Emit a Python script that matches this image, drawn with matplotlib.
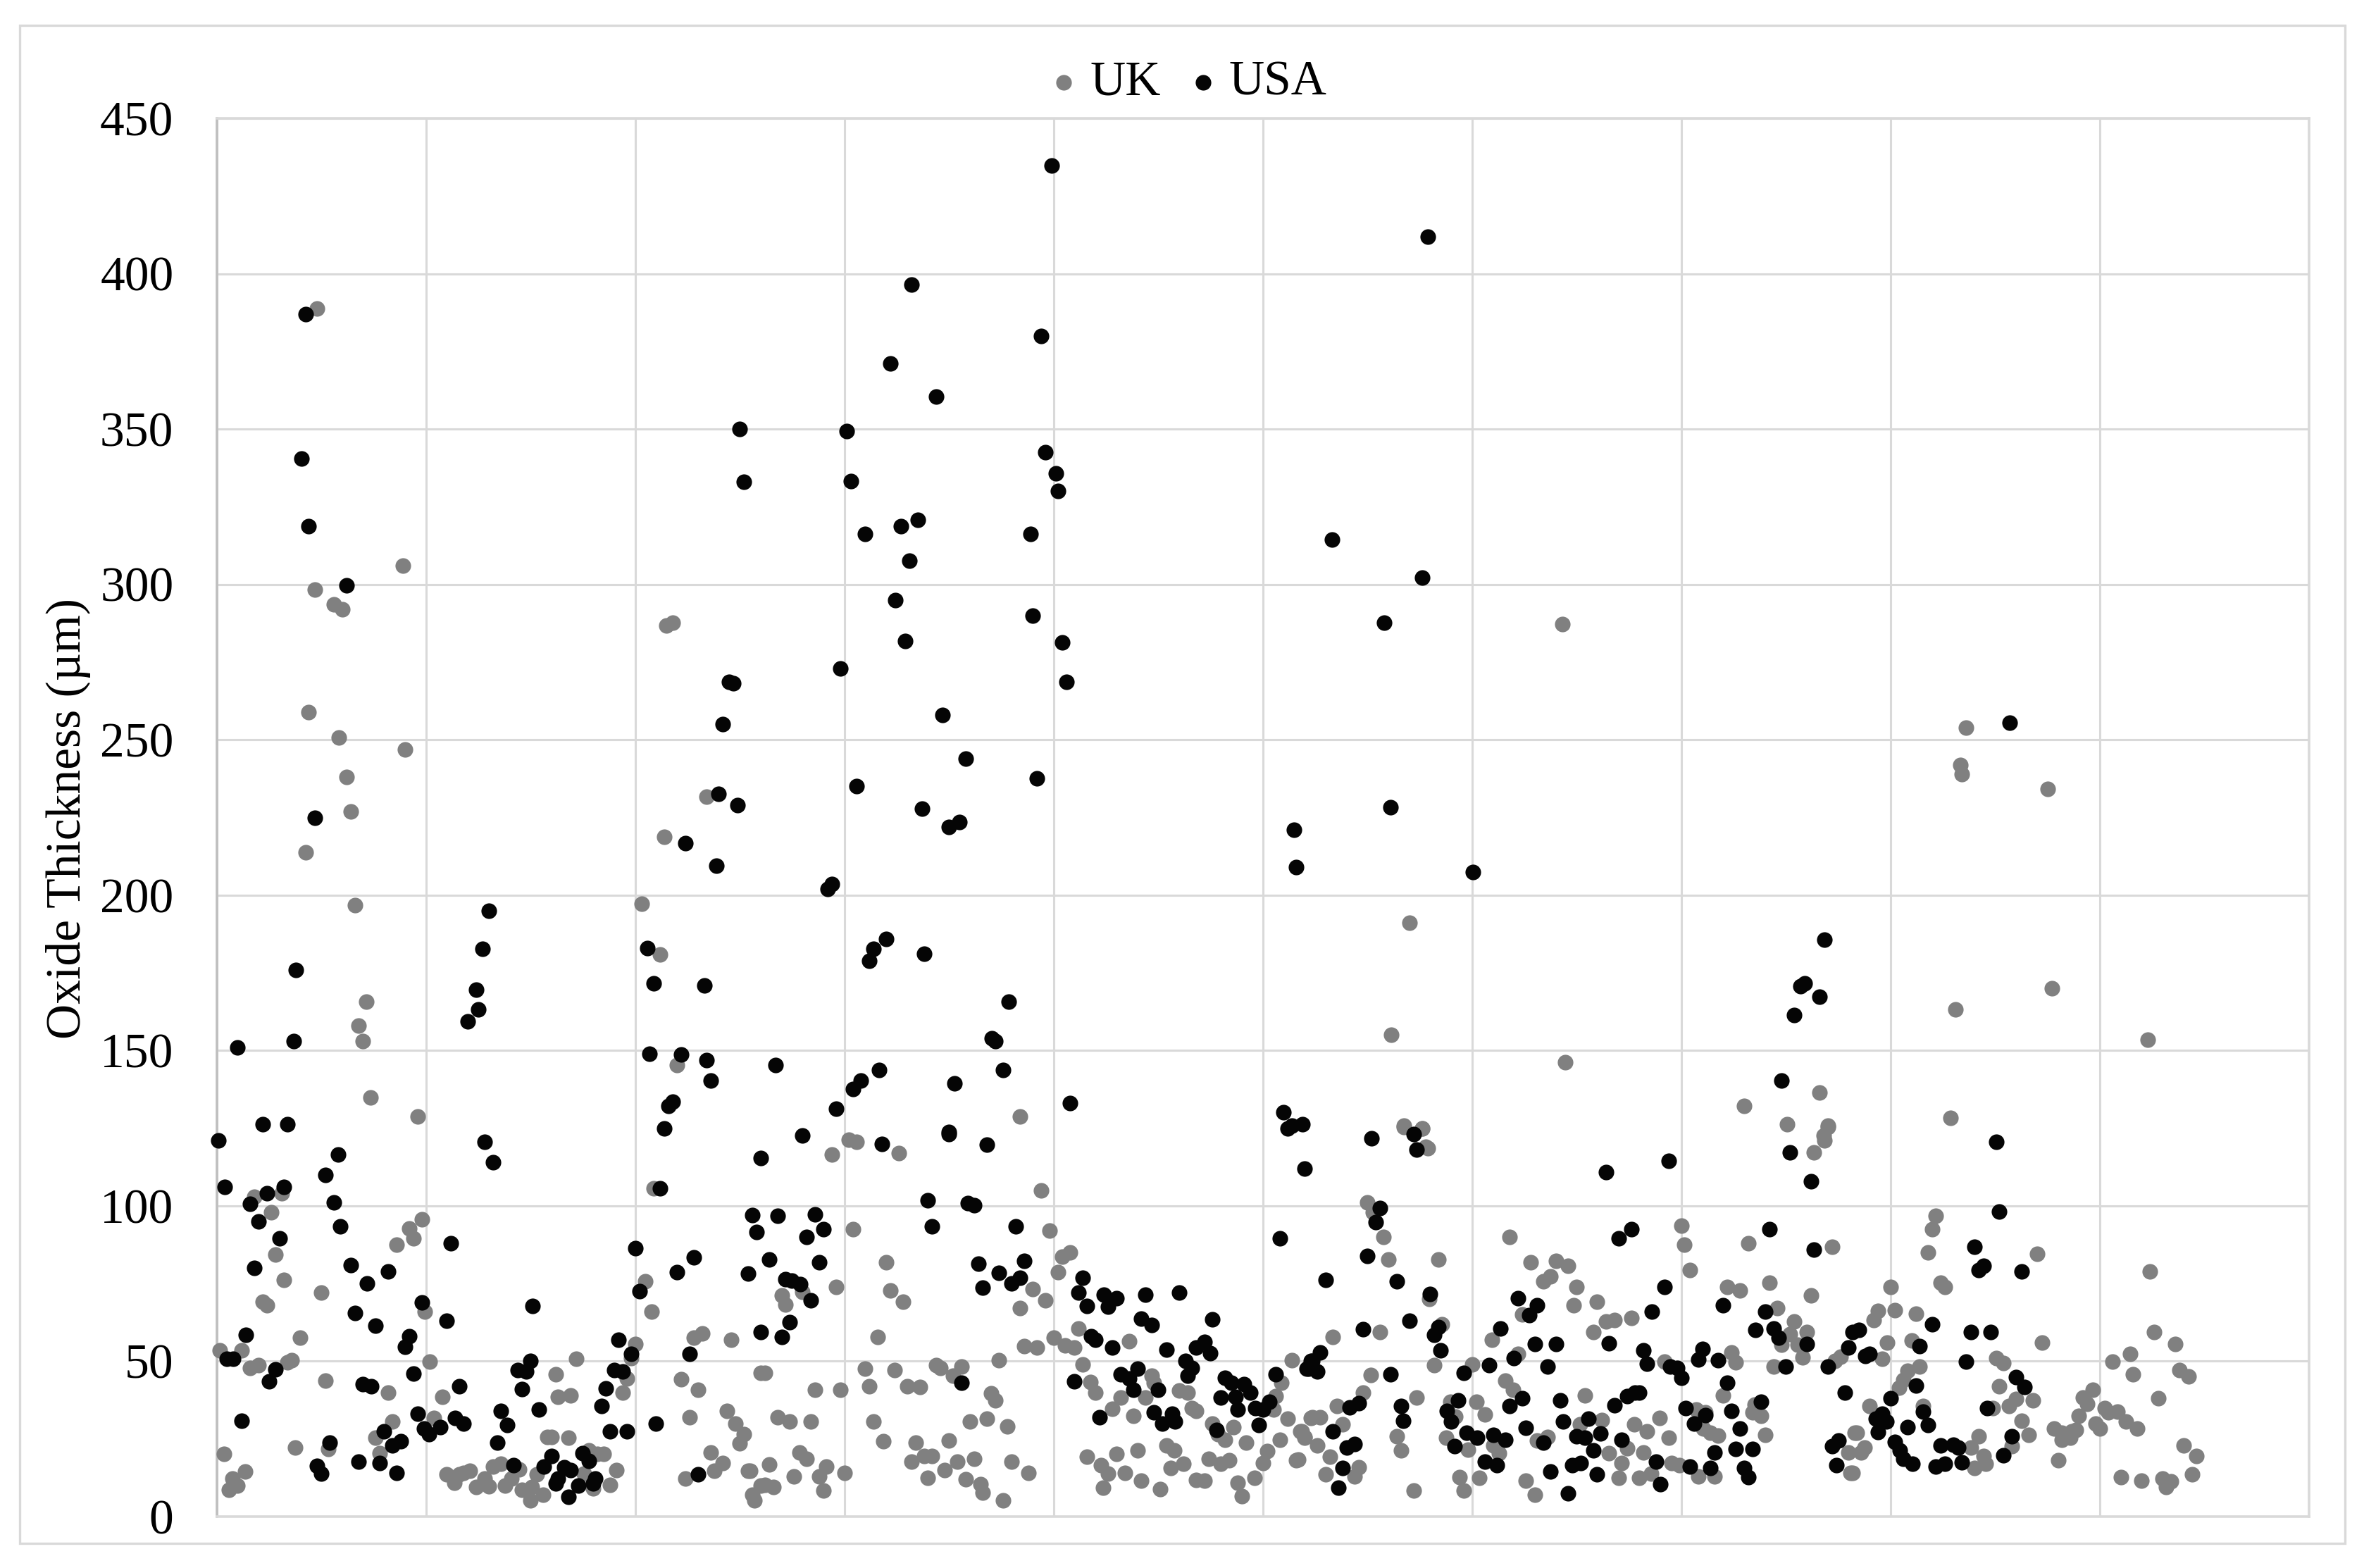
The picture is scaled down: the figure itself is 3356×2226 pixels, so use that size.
import matplotlib
matplotlib.use("Agg")
from matplotlib import pyplot as plt
from matplotlib.patches import Rectangle

## points, (position along the unlabelled x axis, oxide thickness)
uk_points = [
    (1.8,103), (3.1,104), (2.6,98), (9.8,95.6), (9.2,92.8), (9.4,89.5), (8.6,87.5), (2.8,84.4),
    (3.2,76.2), (5,72.2), (2.2,69.2), (2.4,68), (20.9,105.7), (20.5,75.8), (20.8,66), (9.95,66),
    (4,57.5), (0.15,53.4), (1.2,53.4), (3.6,50.3), (3.4,49.7), (2,48.8), (1.6,47.9), (5.2,43.7),
    (8.2,40), (10.2,49.8), (10.8,38.5), (16.2,45.8), (17.2,50.8), (20,55.6), (19.8,51), (19.6,44.4),
    (19.4,40), (16.3,38.6), (16.9,39), (22.2,44.3), (23,40.7), (22.8,57.5), (23.2,59), (24.6,56.9),
    (26,46.2), (22.6,32), (24.4,34), (24.8,30), (25.2,26.6), (25,23.5), (23.6,20.7), (24.2,17.2),
    (23.8,14.8), (22.4,12.2), (25.4,14.7), (26,10), (25.6,7), (25.7,5.2), (8.4,30.5), (7.6,25.3),
    (7.8,20.3), (10.4,31.8), (0.35,20.2), (1.35,14.6), (0.75,12.2), (1,10), (0.6,8.7), (3.75,22.2),
    (5.35,21.8), (15.8,25.7), (16,25.7), (16.8,25.3), (17.8,21.3), (18.5,20.2), (18.2,20.2),
    (11,13.5), (11.35,10.9), (11.6,13.5), (12.1,14.8), (11.8,14), (12.4,9.6), (12.8,12.2), (13,9.8),
    (13.2,16.1), (13.6,17), (13.8,10), (14.1,12.2), (14.45,15.2), (14.6,8.7), (15.05,9.6), (15.3,13.5),
    (15,5.2), (15.6,7), (17.55,13.9), (18,9.1), (18.8,10.3), (19.1,15),
    (30.2,121.3), (30.6,120.5), (29.4,116.6), (32.6,117), (39.4,104.9), (30.4,92.6), (39.8,92),
    (40.8,85), (40.4,83.6), (40.2,78.7), (32,81.9), (29.6,73.8), (32.2,72.7), (32.8,69.2), (27,71.2),
    (27.2,68.2), (28,72.3), (39,73.2), (39.6,69.7), (38.4,67), (41.2,60.5), (40,57.5), (40.55,55.1),
    (41,54.4), (38.6,54.9), (39.2,54.3), (43.6,56.4), (31.6,57.9), (37.4,50.3), (41.4,48.9), (51.4,50.3),
    (26.2,46.2), (31,47.7), (32.4,47.2), (34.4,48.8), (34.6,47.9), (35.6,48.3), (35.2,45.3), (31.2,42),
    (33,42), (33.6,41.6), (28.6,40.7), (29.8,40.7), (37,39.6), (37.2,37.5), (41.75,43.3), (42,40),
    (44.7,45.3), (44.8,43), (43.2,38.2), (42.8,34.6), (44.4,38.2), (46,40.5), (46.4,40), (46.6,34.8),
    (46.8,34), (43.8,32.5), (50.9,43.1), (50.6,38.8), (50.5,34.4), (51.2,31.4), (52.3,31.8), (47.6,30),
    (48.6,28.7), (48.2,24.8), (47.85,26.6), (49.2,23.8), (51.8,27.4), (52,25.7), (50.8,24.8), (50.2,21),
    (50,17.2), (51.6,18.1), (49.6,12.5), (48.8,10.9), (49,6.5), (47.4,18.7), (48,17), (48.4,18.1),
    (46.8,11.8), (47.2,11.6), (46.2,17), (45.6,15.7), (45.4,23), (45.75,21.3), (44,21.3), (43,20.2),
    (41.6,19.2), (42.25,16.6), (42.6,13.9), (43.4,14.1), (44.2,11.5), (45.1,8.9), (42.35,9.4),
    (26.8,32), (27.4,30.5), (28.4,30.5), (31.4,30.5), (31.85,24.2), (36,30.5), (36.8,31.4), (37.8,29),
    (33.4,23.8), (35,24.4), (33.8,19.6), (34.2,19.6), (33.2,17.6), (35.4,17.6), (36.2,18.6), (38,17.6),
    (38.8,14.1), (34.8,15), (34,12.5), (35.8,12), (36.5,10.5), (36.6,7.8), (37.6,5.3), (27.85,20.7),
    (28.2,18.7), (26.4,16.7), (29.15,16.1), (28.8,12.9), (30,14.1), (27.6,13), (29,8.4), (26.6,9.6),
    (26.2,10.2), (25.5,14.8),
    (56.75,125.4), (57.6,125), (57.8,119), (55,101.2), (55.25,98), (55.75,90), (56,82.8), (58.4,82.8),
    (57.95,70), (58.55,62), (55.6,59.4), (53.35,57.9), (58.2,48.8), (55.15,45.6), (54.8,40), (53.55,35.5),
    (52.35,32), (52.75,32), (53.8,29.8), (57.35,38.2), (51.85,27.4), (52,25.3), (52.6,22.8), (53.2,19.2),
    (51.7,18.3), (56.4,25.9), (56.6,21.3), (54.6,15.9), (54.4,13), (53,13.5), (57.2,8.4), (58.95,37),
    (59.2,32.2), (58.75,25.3), (59.8,21.6), (60,49), (60.2,37), (60.6,32.9), (60.95,57), (62.2,52.4),
    (61.8,90), (62.8,81.9), (64,82.3), (64.6,80.8), (63.75,77.3), (63.4,75.8), (62.4,65), (65,73.8),
    (64.85,68.1), (65.95,69.2), (61.6,43.7), (61.95,40.8), (61,23), (61.3,20.5), (59.4,12.6), (59.6,8.4),
    (60.35,12.5), (62.55,11.6), (63,7), (63.6,25.7), (63.1,24.4), (65.15,29.8), (66.2,31.1), (65.4,39),
    (65.8,59.5), (66.4,62.7), (66.8,63.2), (67.6,64), (66.55,20.3), (67.15,17.2), (67.4,22), (67,12.4),
    (68,12.5), (68.55,13.9), (68.2,20.7), (67.75,29.6), (68.35,27.4), (68.95,31.8), (69.4,25.3),
    (69.55,17.2), (69.9,16.6), (69.2,49.9), (70,93.6), (70.15,87.5), (70.4,79.3), (72.2,73.8), (72.8,72.7),
    (72.4,52.9), (72.6,49.7), (72,39), (70.7,34.4), (71.15,33.5), (71.05,28.3), (71.4,27), (71.75,26.1),
    (70.8,12.9), (71.6,12.9), (74,26.3), (73.4,33.5), (73.8,32.5), (73.5,36), (73.2,88), (74.2,75.3),
    (74.6,67), (76.2,71.2), (77.2,86.9), (76.35,117.2), (76.8,122.6), (77,125.4), (75.4,62.7), (75.2,58.8),
    (76,59.4), (74.8,55.3), (75.55,55.3), (74.4,48.3), (75.8,51.2), (77.6,51.4), (77.35,50.1), (78.3,27),
    (78,20.6), (78.6,20.6), (78.1,14.1),
    (82.15,96.9), (82,92.6), (81.8,84.9), (87,84.5), (92.4,78.8), (82.4,75.3), (82.6,73.8), (80,73.8),
    (79.4,66.2), (79.2,63.2), (80.2,66.5), (81.2,65.2), (79.85,55.9), (81,56.6), (79.6,50.8), (81.4,48.3),
    (80.8,47), (80.6,44), (80.4,41.4), (79,35.5), (81.55,35.5), (87.25,55.9), (85.05,51), (85.4,49.4),
    (85.2,42), (86,37.9), (85.65,35.5), (86.8,37.5), (84.9,34.8), (86.25,30.9), (86.6,26.3), (84.2,25.9),
    (83.85,22.2), (85.8,22.6), (84.45,19.6), (84.55,17), (84,15.7), (78.4,27), (78.75,22.2), (78.2,14.1),
    (87.8,28.3), (88.2,27), (88.65,27.4), (88.85,27.9), (88.2,24.8), (88.6,25.3), (88,18.1), (89,32.5),
    (89.2,38.2), (89.65,40.7), (89.4,36.2), (89.8,30), (90,28.3), (90.25,34.8), (90.4,33.5), (90.85,33.7),
    (91.25,30.5), (91.8,28.3), (90.6,49.8), (91.45,52.3), (91.6,45.7), (92.6,59.4), (93.6,55.5),
    (93.8,47.2), (94.25,45.1), (92.8,38), (94,22.8), (94.6,19.6), (94.4,13.5), (91,12.6), (92,11.6),
    (93,12.2), (93.4,11.3), (93.15,9.6),
    (4.8,388.7), (4.7,298.3), (5.6,293.5), (6,292), (8.9,306), (4.4,259), (5.85,250.7), (6.2,238),
    (6.4,226.9), (9,246.8), (4.25,213.8), (6.6,196.8), (7.15,165.7), (6.8,158), (7,153), (7.35,135),
    (9.6,128.8), (20.3,197.3), (21.2,180.8), (21.5,286.7), (21.8,287.7), (21.4,218.7), (23.4,231.8),
    (22,145.3), (57,191), (56.15,155), (56.75,125.9), (57.6,124.9), (57.9,118.6), (64.3,287.2),
    (64.45,146.3), (73,132.2), (75.05,126.3), (76.6,136.5), (77,125.9), (76.85,121), (83.6,254),
    (83.35,242), (83.4,239), (83.1,163.3), (82.85,128.3), (87.5,234.2), (87.7,170), (92.3,153.5),
    (38.4,128.8),
]

usa_points = [
    (0.1,121), (2.2,126.3), (3.4,126.3), (5.8,116.5), (5.2,110), (0.4,106), (3.2,106), (2.4,104),
    (1.6,100.7), (5.6,101), (2,95), (5.9,93.5), (3,89.5), (1.8,80), (6.4,81), (8.2,79), (7.2,75),
    (6.6,65.6), (7.6,61.4), (9.2,58), (9,54.7), (9.8,69), (11,63), (11.2,88), (1.4,58.4), (0.5,50.8),
    (0.8,50.8), (2.8,47.3), (2.5,43.5), (12.8,120.6), (13.2,114), (21.4,125), (21.2,105.7), (20,86.4),
    (22.8,83.4), (22,78.7), (25.4,78.3), (20.2,72.6), (25.6,97), (25.8,91.5), (26,115.4), (15.1,67.7),
    (19.2,56.9), (19.8,52.3), (22.6,52.3), (26,59.5), (15,50), (14.4,47.2), (14.8,46.6), (14.6,41),
    (9.4,46), (7,42.7), (7.4,42), (11.6,42), (19,47.2), (19.4,46.6), (18.6,41.2), (18.4,35.5), (15.4,34.4),
    (13.6,34), (9.6,33), (11.4,31.7), (11.8,29.9), (1.2,30.9), (13.9,29.4), (10.7,28.7), (10.15,26.6),
    (9.9,28.3), (8,27.4), (8.8,24.3), (8.4,23), (5.4,23.8), (13.4,23.8), (18.8,27.4), (19.6,27.4),
    (21,29.9), (6.8,17.6), (7.8,17.2), (4.8,16.3), (5,13.9), (8.6,14.1), (14.2,16.6), (16,19.6),
    (15.65,16.1), (17.5,20.5), (17.8,17.9), (16.6,15.9), (16.9,15), (16.3,12.2), (16.2,10.7), (18.1,12.2),
    (18,10.7), (17.3,10), (16.8,6.4), (23,13.5),
    (28,122.6), (31.8,120), (35,123.7), (36.8,119.6), (51.2,125), (52,112), (34,101.7), (36.2,100.2),
    (35.9,100.8), (34.2,93.5), (38.2,93.5), (50.8,89.5), (26.8,96.7), (28.6,97.2), (29,92.6), (28.2,90),
    (26.4,82.8), (28.8,81.9), (27.2,76.4), (27.5,76), (27.9,74.9), (28.4,69.7), (27.4,62.5), (27,57.8),
    (36.4,81.4), (37.4,78.4), (38.6,82.4), (38.4,76.9), (38,75), (36.6,73.6), (41.4,76.8), (41.2,72.2),
    (41.6,67.7), (42.4,71.3), (43,70.3), (42.6,67.5), (44.4,71.3), (46,72.2), (47.6,63.5), (44.2,63.6),
    (44.7,61.6), (41.8,58.1), (42,56.9), (42.8,54.4), (45.4,53.8), (46.8,54.4), (47.2,56.2), (47.5,52.7),
    (46.3,50), (46.6,47.9), (46.4,45.3), (50.6,45.7), (52.1,47.5), (52.3,50), (43.2,45.7), (43.6,44.4),
    (44,47.5), (43.8,40.9), (45,40.7), (41,43.6), (48.2,44.7), (49.1,42.7), (48.5,43), (49.4,40), (48,38.3),
    (48.7,38.5), (48.8,34.4), (49.65,34.8), (50,34.4), (50.3,37), (44.8,33.5), (45.65,33.1), (45.2,30),
    (45.8,30.5), (42.2,32), (47.8,27.9), (49.8,29.4), (35.6,43.1),
    (55.2,121.7), (57.2,123), (57.35,118), (55.6,99.3), (55.4,94.7), (55,83.9), (53,76.2), (56.4,75.8),
    (58,71.6), (57,63), (54.8,60.4), (58.4,61), (58.2,58.4), (58.5,53.4), (52.75,52.9), (52.35,50),
    (52.2,47.5), (52.6,46.6), (56.1,45.7), (54.6,36.6), (54.15,35.1), (56.6,35.5), (56.7,30.9), (53.35,27.4),
    (54.4,23.3), (54,22.2), (53.8,15.7), (53.6,9.4), (62.2,70.3), (63.1,68.1), (62.75,64.9), (61.35,60.5),
    (62,51), (63,55.5), (64,55.5), (63.6,48.3), (60.8,48.8), (59.6,46.2), (59.35,37.5), (58.8,34), (59,30.5),
    (62.4,38), (61.8,35.5), (64.2,37.5), (64.35,30.5), (62.55,28.5), (59.75,27), (60.25,25.3), (61,26.4),
    (61.6,24.7), (59.15,22.6), (60.6,17.6), (61.2,16.6), (63.4,23.8), (63.75,14.5), (64.6,7.4), (64.8,16.6),
    (65.2,17.2), (65.95,13.5), (65,25.9), (65.4,25.3), (65.55,31.5), (66.15,26.7), (65.8,21.3), (67.15,24.8),
    (66.8,35.9), (67.4,38.8), (67.8,40), (68,40), (66.55,55.7), (67.6,92.6), (67,89.5), (69.2,73.8),
    (68.6,66), (68.2,53.4), (68.35,49.2), (69.45,48.3), (69.8,47.9), (70,44.6), (68.8,17.6), (69,10.5),
    (70.2,35), (71.15,32.7), (70.6,30), (70.4,16.1), (71.4,15.7), (71.6,20.7), (72.6,21.8), (73.4,21.8),
    (72.8,28.3), (72.4,34), (72.2,43.1), (73.8,37), (73,15.7), (73.2,12.6), (71,54), (70.8,50.5), (71.75,50.3),
    (72,68.1), (74,66), (73.55,60.1), (74.4,60.5), (74.65,57.5), (74.2,92.6), (76.35,86), (75.2,117.2),
    (76.2,107.8), (69.4,114.5), (66.4,110.9), (76,55.5), (75,48.3), (77,48.3), (77.8,40), (78.2,59.5),
    (78.5,60), (78,54.3), (77.5,24.4), (77.2,22.6), (77.4,16.6),
    (85.05,120.6), (85.2,98.2), (84,86.9), (84.45,80.7), (84.2,79.3), (86.25,78.8), (82,62), (83.85,59.4),
    (84.8,59.4), (83.6,49.8), (81.4,54.9), (78.8,51.8), (79,52.3), (81.2,42.2), (80,38), (86,44.9), (86.4,41.6),
    (84.6,35), (81.55,33.8), (81.8,29.4), (80.8,28.9), (79.6,33.1), (79.3,31.4), (79.8,30.5), (79.4,27.2),
    (80.2,24), (80.45,21.3), (80.6,18.7), (81.05,17), (85.8,25.9), (85.4,19.8), (82.4,22.8), (83,23.1),
    (83.25,22.2), (83.4,17.4), (82.6,17), (82.15,16.1),
    (4.25,387), (4.05,340.6), (4.4,318.8), (6.2,299.8), (4.7,225), (3.8,176), (3.7,153), (1,151),
    (13,195), (12.7,182.7), (12.4,169.6), (12.5,163.3), (12,159.4), (20.7,149), (20.6,183), (20.9,171.5),
    (22.4,216.7), (23.3,171), (22.2,148.7), (23.4,147), (23.6,140.4), (21.8,133.6), (21.6,132.2),
    (25,350), (25.2,333), (24.5,268.7), (24.7,268.2), (24.2,255), (24,232.7), (24.9,228.9), (23.9,209.4),
    (26.7,145.3), (30.1,349.4), (30.3,333.3), (31,316.3), (29.8,273), (30.6,235.2), (29.2,202.1), (29.4,203.6),
    (32,186), (31.4,182.7), (31.2,178.8), (31.65,143.8), (30.8,140.4), (30.4,137.5), (29.6,131.2),
    (32.2,371), (33.2,396.5), (34.4,360.5), (32.7,318.8), (33.5,320.7), (33.1,307.6), (32.45,295), (32.9,281.8),
    (34.7,258), (35.8,243.9), (33.7,227.9), (35,222), (35.5,223.5), (33.8,181.2), (37.2,153), (37.05,154),
    (37.85,165.7), (37.6,143.8), (35.25,139.5), (35,123), (39.9,434.9), (39.4,380), (39.6,342.6), (40.1,335.8),
    (40.2,330), (38.9,316.3), (39,290), (40.4,281.3), (40.6,268.7), (39.2,237.6), (40.8,133.1),
    (57.9,412), (57.6,302.2), (55.8,287.7), (53.3,314.4), (56.1,228.4), (60.05,207.5), (51.5,221), (51.6,209),
    (51,130.2), (51.4,125.9), (51.9,126.3), (76.85,185.6), (75.9,171.5), (75.7,170.6), (76.6,167.2),
    (75.4,161.3), (74.8,140.4), (85.7,255.6),
]

y_ticks = [0, 50, 100, 150, 200, 250, 300, 350, 400, 450]
x_grid = [0, 10, 20, 30, 40, 50, 60, 70, 80, 90, 100]

GRID = "#d9d9d9"
plt.rcParams["font.family"] = ["Liberation Serif", "DejaVu Serif"]

W, H = 3356, 2226
fig = plt.figure(figsize=(W/100., H/100.), dpi=100)
ax = fig.add_axes([307.5/W, 1-2153./H, (3278-307.5)/W, (2153-168.)/H])

## outer chart frame
fig.add_artist(Rectangle((28./W, 1-2191./H), (3329-28.)/W, (2191-36.)/H, transform=fig.transFigure,
                         fill=False, edgecolor=GRID, linewidth=2.4))

ax.scatter(*zip(*uk_points), s=255, color="#808080", linewidths=0, label="UK", zorder=3, clip_on=False)
ax.scatter(*zip(*usa_points), s=255, color="#050505", linewidths=0, label="USA", zorder=4, clip_on=False)

ax.set_xlim(0, 100)
ax.set_ylim(0, 450)
ax.set_xticks(x_grid)
ax.set_xticklabels([])
ax.set_yticks(y_ticks)
ax.grid(True, color=GRID, linewidth=2.2, zorder=0)
ax.set_axisbelow(True)
ax.tick_params(length=0, labelsize=50, pad=44)
for side, spine in ax.spines.items():
    spine.set_color(GRID)
    spine.set_linewidth(2.6)
ax.spines["left"].set_color("#bfbfbf")

ax.set_ylabel("Oxide Thickness (µm)", fontsize=50, labelpad=0)
ax.yaxis.set_label_coords(97./W, 1-1162./H, transform=fig.transFigure)
ax.yaxis.label.set_verticalalignment("center")

fig.legend(loc="center", bbox_to_anchor=(1685./W, 1-118./H), ncol=2, frameon=False, fontsize=50,
           handlelength=0.7, handletextpad=0.18, columnspacing=0.52, borderpad=0, borderaxespad=0)

fig.savefig("out.png", dpi=100)
